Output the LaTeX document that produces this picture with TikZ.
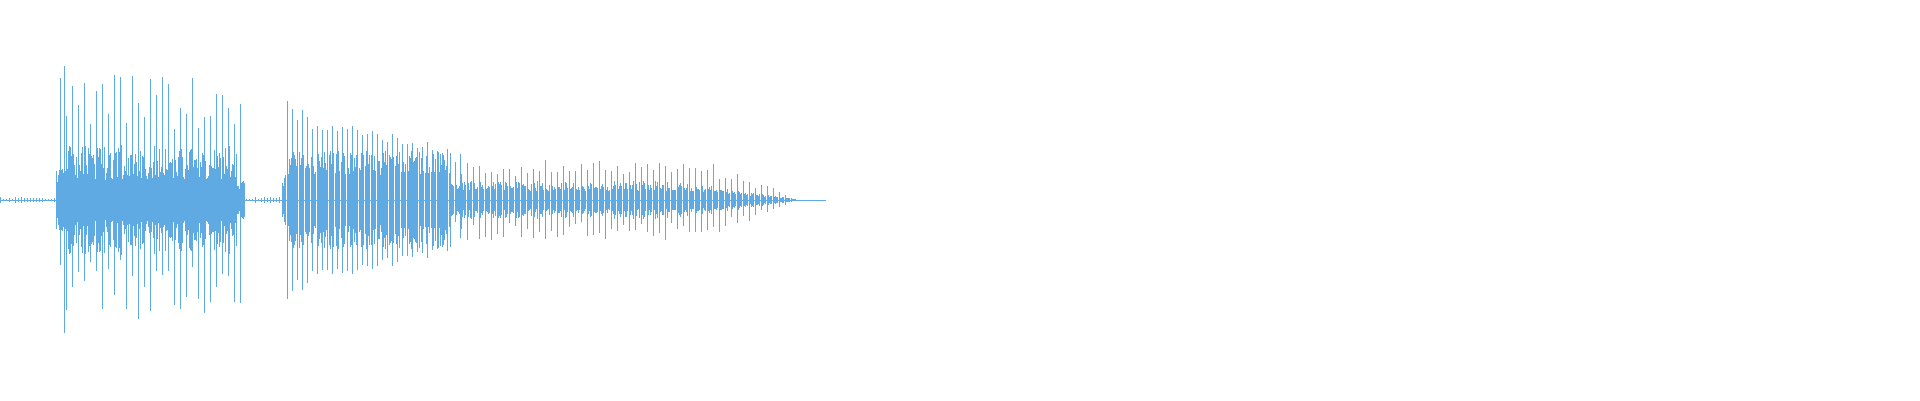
\documentclass[tikz,border=0pt]{standalone}
\definecolor{waveclr}{RGB}{95,170,226}
\tikzset{ %
  ,wave/.style={draw=waveclr, line width=0.55pt}
  ,spike/.style={draw=waveclr, line width=0.7pt}
}
\begin{document}
\begin{tikzpicture}[x=1pt,y=1pt]
  \useasboundingbox (0,0) rectangle (1920,400);
  \pgfmathsetseed{7}
  % quiet parts
  \draw[wave] (0,200) -- (826,200);
  \foreach \x in {0,3,...,54,246,249,...,281} {
    \pgfmathsetmacro\a{1+2*rnd}
    \draw[wave] (\x,200-\a) -- (\x,200+\a);
  }
  % first burst
  \foreach \x in {56,57.2,...,245} {
    \pgfmathsetmacro\a{(20+35*rnd)*(\x<62 ? 0.6 : 1)*(\x>236 ? 0.4 : 1)}
    \draw[wave] (\x,200-\a) -- (\x,200+\a);
  }
  \foreach \x in {60,66,...,240} {
    \pgfmathsetmacro\a{70+55*rnd}
    \pgfmathsetmacro\b{60+60*rnd}
    \draw[spike] (\x,200-\b) -- (\x,200+\a);
  }
  \draw[spike] (64,67) -- (64,334);
  % second burst
  \foreach \x in {282,283.2,...,450} {
    \pgfmathsetmacro\a{(25+25*rnd)*(\x<287 ? 0.5 : 1)}
    \draw[wave] (\x,200-\a) -- (\x,200+\a);
  }
  \foreach \x in {287,292,...,447} {
    \pgfmathsetmacro\a{(95-40*(\x-287)/160)*(0.8+0.25*rnd)}
    \draw[spike] (\x,200-\a) -- (\x,200+\a);
  }
  % third burst
  \foreach \x in {450,451.2,...,796} {
    \pgfmathsetmacro\a{(8+10*rnd)*min(1,(796-\x)/120)+1}
    \draw[wave] (\x,200-\a) -- (\x,200+\a);
  }
  \foreach \x in {455,461,...,790} {
    \pgfmathsetmacro\a{(22+16*rnd)*min(1,(796-\x)/90)+2}
    \pgfmathsetmacro\b{(20+18*rnd)*min(1,(796-\x)/90)+2}
    \draw[spike] (\x,200-\b) -- (\x,200+\a);
  }
  \draw[spike] (460,162) -- (460,246);
\end{tikzpicture}
\end{document}
